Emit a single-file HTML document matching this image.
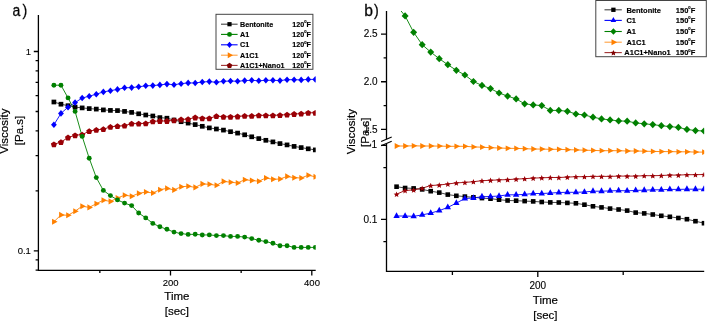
<!DOCTYPE html><html><head><meta charset="utf-8"><style>html,body{margin:0;padding:0;background:#fff;width:707px;height:321px;overflow:hidden}svg{display:block;will-change:transform;font-family:"Liberation Sans",sans-serif}</style></head><body><svg width="707" height="321" viewBox="0 0 707 321" font-family="Liberation Sans, sans-serif"><defs><clipPath id="cl"><rect x="38" y="14" width="277.7" height="257"/></clipPath><clipPath id="cr"><rect x="386.5" y="10.9" width="317.7" height="261"/></clipPath></defs><g clip-path="url(#cl)"><polyline points="53.9,102 60.96,104.2 68.03,105.7 75.09,107.1 82.16,107.9 89.22,108.6 96.29,109.1 103.36,109.9 110.42,110.4 117.48,110.6 124.55,111.4 131.62,112.4 138.68,113.8 145.75,115 152.81,116 159.88,117.6 166.94,118.2 174,120 181.07,121.7 188.14,123.1 195.2,124.6 202.27,126.3 209.33,127.9 216.4,129 223.46,130.1 230.53,131.7 237.59,133.1 244.66,134.8 251.72,136.8 258.79,138.6 265.85,140.3 272.92,141.9 279.98,143.6 287.05,144.9 294.11,146.4 301.18,147.6 308.24,148.8 315.31,149.9" fill="none" stroke="#333" stroke-width="0.9" stroke-opacity="1"/><polyline points="53.9,144.3 60.96,142.1 68.03,137.5 75.09,135.3 82.16,134.6 89.22,131.2 96.29,129.9 103.36,129.2 110.42,126.9 117.48,126.2 124.55,125.7 131.62,123.6 138.68,123.6 145.75,123.4 152.81,121.4 159.88,121 166.94,121 174,120.3 181.07,119.5 188.14,119.1 195.2,117.5 202.27,118.3 209.33,118.3 216.4,116.2 223.46,116.8 230.53,116.8 237.59,116.5 244.66,115.9 251.72,115.9 258.79,115.4 265.85,115.4 272.92,115.4 279.98,115.1 287.05,114.6 294.11,114 301.18,113.7 308.24,112.8 315.31,112.8" fill="none" stroke="#9a0006" stroke-width="0.9" stroke-opacity="1"/><polyline points="53.9,221.8 60.96,214.9 68.03,215.3 75.09,211.2 82.16,206.2 89.22,207.4 96.29,203.7 103.36,200.2 110.42,201.4 117.48,198 124.55,195.2 131.62,196.2 138.68,193.4 145.75,192 152.81,193 159.88,189.7 166.94,188.4 174,189.9 181.07,186.8 188.14,186.2 195.2,187.4 202.27,183.9 209.33,184.3 216.4,185.3 223.46,181.4 230.53,182.2 237.59,183 244.66,179.7 251.72,180.5 258.79,181.2 265.85,178 272.92,179.3 279.98,179 287.05,176.4 294.11,177.7 301.18,178 308.24,175.2 315.31,176.8" fill="none" stroke="#ff8000" stroke-width="0.9" stroke-opacity="1"/><polyline points="53.9,124.8 60.96,113.4 68.03,107.2 75.09,102.6 82.16,98 89.22,96.2 96.29,94.2 103.36,91.9 110.42,90.7 117.48,89.4 124.55,87.8 131.62,87.6 138.68,86.8 145.75,85.8 152.81,85.6 159.88,84.9 166.94,84.1 174,84.7 181.07,83.7 188.14,82.9 195.2,83 202.27,82 209.33,81.6 216.4,82.3 223.46,81.3 230.53,81 237.59,81.3 244.66,80.6 251.72,80.3 258.79,80.8 265.85,80.3 272.92,80.3 279.98,80.6 287.05,79.7 294.11,79.7 301.18,79.9 308.24,79.4 315.31,79.4" fill="none" stroke="#0000ff" stroke-width="0.9" stroke-opacity="1"/><polyline points="53.9,85.2 60.96,85.2 68.03,97.9 75.09,111.4 82.16,136.4 89.22,158.3 96.29,177.6 103.36,190.4 110.42,195.6 117.48,199.9 124.55,203.1 131.62,205.6 138.68,213 145.75,217.9 152.81,223.4 159.88,226.8 166.94,229.3 174,232.1 181.07,233.6 188.14,234.4 195.2,234.3 202.27,235 209.33,234.9 216.4,235.6 223.46,235.6 230.53,236.4 237.59,236.4 244.66,237.1 251.72,238.6 258.79,240.3 265.85,241.6 272.92,243.3 279.98,245.7 287.05,245.7 294.11,247.4 301.18,247.4 308.24,247.4 315.31,247.4" fill="none" stroke="#008000" stroke-width="0.9" stroke-opacity="1"/><rect x="51.55" y="99.65" width="4.7" height="4.7" fill="#000000"/><rect x="58.61" y="101.85" width="4.7" height="4.7" fill="#000000"/><rect x="65.68" y="103.35" width="4.7" height="4.7" fill="#000000"/><rect x="72.75" y="104.75" width="4.7" height="4.7" fill="#000000"/><rect x="79.81" y="105.55" width="4.7" height="4.7" fill="#000000"/><rect x="86.88" y="106.25" width="4.7" height="4.7" fill="#000000"/><rect x="93.94" y="106.75" width="4.7" height="4.7" fill="#000000"/><rect x="101.01" y="107.55" width="4.7" height="4.7" fill="#000000"/><rect x="108.07" y="108.05" width="4.7" height="4.7" fill="#000000"/><rect x="115.14" y="108.25" width="4.7" height="4.7" fill="#000000"/><rect x="122.2" y="109.05" width="4.7" height="4.7" fill="#000000"/><rect x="129.27" y="110.05" width="4.7" height="4.7" fill="#000000"/><rect x="136.33" y="111.45" width="4.7" height="4.7" fill="#000000"/><rect x="143.4" y="112.65" width="4.7" height="4.7" fill="#000000"/><rect x="150.46" y="113.65" width="4.7" height="4.7" fill="#000000"/><rect x="157.53" y="115.25" width="4.7" height="4.7" fill="#000000"/><rect x="164.59" y="115.85" width="4.7" height="4.7" fill="#000000"/><rect x="171.66" y="117.65" width="4.7" height="4.7" fill="#000000"/><rect x="178.72" y="119.35" width="4.7" height="4.7" fill="#000000"/><rect x="185.79" y="120.75" width="4.7" height="4.7" fill="#000000"/><rect x="192.85" y="122.25" width="4.7" height="4.7" fill="#000000"/><rect x="199.92" y="123.95" width="4.7" height="4.7" fill="#000000"/><rect x="206.98" y="125.55" width="4.7" height="4.7" fill="#000000"/><rect x="214.05" y="126.65" width="4.7" height="4.7" fill="#000000"/><rect x="221.11" y="127.75" width="4.7" height="4.7" fill="#000000"/><rect x="228.18" y="129.35" width="4.7" height="4.7" fill="#000000"/><rect x="235.24" y="130.75" width="4.7" height="4.7" fill="#000000"/><rect x="242.31" y="132.45" width="4.7" height="4.7" fill="#000000"/><rect x="249.37" y="134.45" width="4.7" height="4.7" fill="#000000"/><rect x="256.44" y="136.25" width="4.7" height="4.7" fill="#000000"/><rect x="263.5" y="137.95" width="4.7" height="4.7" fill="#000000"/><rect x="270.56" y="139.55" width="4.7" height="4.7" fill="#000000"/><rect x="277.63" y="141.25" width="4.7" height="4.7" fill="#000000"/><rect x="284.69" y="142.55" width="4.7" height="4.7" fill="#000000"/><rect x="291.76" y="144.05" width="4.7" height="4.7" fill="#000000"/><rect x="298.82" y="145.25" width="4.7" height="4.7" fill="#000000"/><rect x="305.89" y="146.45" width="4.7" height="4.7" fill="#000000"/><rect x="312.95" y="147.55" width="4.7" height="4.7" fill="#000000"/><path d="M53.9 141.4L56.94 143.61L55.78 147.19L52.02 147.19L50.86 143.61Z" fill="#9a0006"/><path d="M60.96 139.2L64.01 141.41L62.85 144.99L59.08 144.99L57.92 141.41Z" fill="#9a0006"/><path d="M68.03 134.6L71.07 136.81L69.91 140.39L66.15 140.39L64.99 136.81Z" fill="#9a0006"/><path d="M75.09 132.4L78.14 134.61L76.98 138.19L73.21 138.19L72.05 134.61Z" fill="#9a0006"/><path d="M82.16 131.7L85.2 133.91L84.04 137.49L80.28 137.49L79.12 133.91Z" fill="#9a0006"/><path d="M89.22 128.3L92.27 130.51L91.11 134.09L87.34 134.09L86.18 130.51Z" fill="#9a0006"/><path d="M96.29 127L99.33 129.21L98.17 132.79L94.41 132.79L93.25 129.21Z" fill="#9a0006"/><path d="M103.36 126.3L106.4 128.51L105.24 132.09L101.47 132.09L100.31 128.51Z" fill="#9a0006"/><path d="M110.42 124L113.46 126.21L112.3 129.79L108.54 129.79L107.38 126.21Z" fill="#9a0006"/><path d="M117.48 123.3L120.53 125.51L119.37 129.09L115.6 129.09L114.44 125.51Z" fill="#9a0006"/><path d="M124.55 122.8L127.59 125.01L126.43 128.59L122.67 128.59L121.51 125.01Z" fill="#9a0006"/><path d="M131.62 120.7L134.66 122.91L133.5 126.49L129.73 126.49L128.57 122.91Z" fill="#9a0006"/><path d="M138.68 120.7L141.72 122.91L140.56 126.49L136.8 126.49L135.64 122.91Z" fill="#9a0006"/><path d="M145.75 120.5L148.79 122.71L147.63 126.29L143.86 126.29L142.7 122.71Z" fill="#9a0006"/><path d="M152.81 118.5L155.85 120.71L154.69 124.29L150.93 124.29L149.77 120.71Z" fill="#9a0006"/><path d="M159.88 118.1L162.92 120.31L161.76 123.89L157.99 123.89L156.83 120.31Z" fill="#9a0006"/><path d="M166.94 118.1L169.98 120.31L168.82 123.89L165.06 123.89L163.9 120.31Z" fill="#9a0006"/><path d="M174 117.4L177.05 119.61L175.89 123.19L172.12 123.19L170.96 119.61Z" fill="#9a0006"/><path d="M181.07 116.6L184.11 118.81L182.95 122.39L179.19 122.39L178.03 118.81Z" fill="#9a0006"/><path d="M188.14 116.2L191.18 118.41L190.02 121.99L186.25 121.99L185.09 118.41Z" fill="#9a0006"/><path d="M195.2 114.6L198.24 116.81L197.08 120.39L193.32 120.39L192.16 116.81Z" fill="#9a0006"/><path d="M202.27 115.4L205.31 117.61L204.15 121.19L200.38 121.19L199.22 117.61Z" fill="#9a0006"/><path d="M209.33 115.4L212.37 117.61L211.21 121.19L207.45 121.19L206.29 117.61Z" fill="#9a0006"/><path d="M216.4 113.3L219.44 115.51L218.28 119.09L214.51 119.09L213.35 115.51Z" fill="#9a0006"/><path d="M223.46 113.9L226.5 116.11L225.34 119.69L221.58 119.69L220.42 116.11Z" fill="#9a0006"/><path d="M230.53 113.9L233.57 116.11L232.41 119.69L228.64 119.69L227.48 116.11Z" fill="#9a0006"/><path d="M237.59 113.6L240.63 115.81L239.47 119.39L235.71 119.39L234.55 115.81Z" fill="#9a0006"/><path d="M244.66 113L247.7 115.21L246.54 118.79L242.77 118.79L241.61 115.21Z" fill="#9a0006"/><path d="M251.72 113L254.76 115.21L253.6 118.79L249.84 118.79L248.68 115.21Z" fill="#9a0006"/><path d="M258.79 112.5L261.83 114.71L260.67 118.29L256.9 118.29L255.74 114.71Z" fill="#9a0006"/><path d="M265.85 112.5L268.89 114.71L267.73 118.29L263.97 118.29L262.81 114.71Z" fill="#9a0006"/><path d="M272.92 112.5L275.96 114.71L274.8 118.29L271.03 118.29L269.87 114.71Z" fill="#9a0006"/><path d="M279.98 112.2L283.02 114.41L281.86 117.99L278.1 117.99L276.94 114.41Z" fill="#9a0006"/><path d="M287.05 111.7L290.09 113.91L288.93 117.49L285.16 117.49L284 113.91Z" fill="#9a0006"/><path d="M294.11 111.1L297.15 113.31L295.99 116.89L292.23 116.89L291.07 113.31Z" fill="#9a0006"/><path d="M301.18 110.8L304.22 113.01L303.06 116.59L299.29 116.59L298.13 113.01Z" fill="#9a0006"/><path d="M308.24 109.9L311.28 112.11L310.12 115.69L306.36 115.69L305.2 112.11Z" fill="#9a0006"/><path d="M315.31 109.9L318.35 112.11L317.19 115.69L313.42 115.69L312.26 112.11Z" fill="#9a0006"/><path d="M52.07 218.75L57.57 221.8L52.07 224.85Z" fill="#ff8000"/><path d="M59.13 211.85L64.63 214.9L59.13 217.95Z" fill="#ff8000"/><path d="M66.2 212.25L71.7 215.3L66.2 218.35Z" fill="#ff8000"/><path d="M73.26 208.15L78.76 211.2L73.26 214.25Z" fill="#ff8000"/><path d="M80.33 203.15L85.83 206.2L80.33 209.25Z" fill="#ff8000"/><path d="M87.39 204.35L92.89 207.4L87.39 210.45Z" fill="#ff8000"/><path d="M94.46 200.65L99.96 203.7L94.46 206.75Z" fill="#ff8000"/><path d="M101.52 197.15L107.02 200.2L101.52 203.25Z" fill="#ff8000"/><path d="M108.59 198.35L114.09 201.4L108.59 204.45Z" fill="#ff8000"/><path d="M115.65 194.95L121.15 198L115.65 201.05Z" fill="#ff8000"/><path d="M122.72 192.15L128.22 195.2L122.72 198.25Z" fill="#ff8000"/><path d="M129.78 193.15L135.28 196.2L129.78 199.25Z" fill="#ff8000"/><path d="M136.85 190.35L142.35 193.4L136.85 196.45Z" fill="#ff8000"/><path d="M143.91 188.95L149.41 192L143.91 195.05Z" fill="#ff8000"/><path d="M150.98 189.95L156.48 193L150.98 196.05Z" fill="#ff8000"/><path d="M158.04 186.65L163.54 189.7L158.04 192.75Z" fill="#ff8000"/><path d="M165.11 185.35L170.61 188.4L165.11 191.45Z" fill="#ff8000"/><path d="M172.17 186.85L177.67 189.9L172.17 192.95Z" fill="#ff8000"/><path d="M179.24 183.75L184.74 186.8L179.24 189.85Z" fill="#ff8000"/><path d="M186.3 183.15L191.8 186.2L186.3 189.25Z" fill="#ff8000"/><path d="M193.37 184.35L198.87 187.4L193.37 190.45Z" fill="#ff8000"/><path d="M200.43 180.85L205.93 183.9L200.43 186.95Z" fill="#ff8000"/><path d="M207.5 181.25L213 184.3L207.5 187.35Z" fill="#ff8000"/><path d="M214.56 182.25L220.06 185.3L214.56 188.35Z" fill="#ff8000"/><path d="M221.63 178.35L227.13 181.4L221.63 184.45Z" fill="#ff8000"/><path d="M228.69 179.15L234.19 182.2L228.69 185.25Z" fill="#ff8000"/><path d="M235.76 179.95L241.26 183L235.76 186.05Z" fill="#ff8000"/><path d="M242.82 176.65L248.32 179.7L242.82 182.75Z" fill="#ff8000"/><path d="M249.89 177.45L255.39 180.5L249.89 183.55Z" fill="#ff8000"/><path d="M256.95 178.15L262.45 181.2L256.95 184.25Z" fill="#ff8000"/><path d="M264.02 174.95L269.52 178L264.02 181.05Z" fill="#ff8000"/><path d="M271.08 176.25L276.58 179.3L271.08 182.35Z" fill="#ff8000"/><path d="M278.15 175.95L283.65 179L278.15 182.05Z" fill="#ff8000"/><path d="M285.21 173.35L290.71 176.4L285.21 179.45Z" fill="#ff8000"/><path d="M292.28 174.65L297.78 177.7L292.28 180.75Z" fill="#ff8000"/><path d="M299.34 174.95L304.84 178L299.34 181.05Z" fill="#ff8000"/><path d="M306.41 172.15L311.91 175.2L306.41 178.25Z" fill="#ff8000"/><path d="M313.47 173.75L318.97 176.8L313.47 179.85Z" fill="#ff8000"/><path d="M53.9 121.5L56.8 124.8L53.9 128.1L51 124.8Z" fill="#0000ff"/><path d="M60.96 110.1L63.86 113.4L60.96 116.7L58.06 113.4Z" fill="#0000ff"/><path d="M68.03 103.9L70.93 107.2L68.03 110.5L65.13 107.2Z" fill="#0000ff"/><path d="M75.09 99.3L78 102.6L75.09 105.9L72.19 102.6Z" fill="#0000ff"/><path d="M82.16 94.7L85.06 98L82.16 101.3L79.26 98Z" fill="#0000ff"/><path d="M89.22 92.9L92.12 96.2L89.22 99.5L86.32 96.2Z" fill="#0000ff"/><path d="M96.29 90.9L99.19 94.2L96.29 97.5L93.39 94.2Z" fill="#0000ff"/><path d="M103.36 88.6L106.26 91.9L103.36 95.2L100.45 91.9Z" fill="#0000ff"/><path d="M110.42 87.4L113.32 90.7L110.42 94L107.52 90.7Z" fill="#0000ff"/><path d="M117.48 86.1L120.39 89.4L117.48 92.7L114.58 89.4Z" fill="#0000ff"/><path d="M124.55 84.5L127.45 87.8L124.55 91.1L121.65 87.8Z" fill="#0000ff"/><path d="M131.62 84.3L134.52 87.6L131.62 90.9L128.72 87.6Z" fill="#0000ff"/><path d="M138.68 83.5L141.58 86.8L138.68 90.1L135.78 86.8Z" fill="#0000ff"/><path d="M145.75 82.5L148.65 85.8L145.75 89.1L142.84 85.8Z" fill="#0000ff"/><path d="M152.81 82.3L155.71 85.6L152.81 88.9L149.91 85.6Z" fill="#0000ff"/><path d="M159.88 81.6L162.78 84.9L159.88 88.2L156.97 84.9Z" fill="#0000ff"/><path d="M166.94 80.8L169.84 84.1L166.94 87.4L164.04 84.1Z" fill="#0000ff"/><path d="M174 81.4L176.91 84.7L174 88L171.1 84.7Z" fill="#0000ff"/><path d="M181.07 80.4L183.97 83.7L181.07 87L178.17 83.7Z" fill="#0000ff"/><path d="M188.14 79.6L191.04 82.9L188.14 86.2L185.24 82.9Z" fill="#0000ff"/><path d="M195.2 79.7L198.1 83L195.2 86.3L192.3 83Z" fill="#0000ff"/><path d="M202.27 78.7L205.17 82L202.27 85.3L199.37 82Z" fill="#0000ff"/><path d="M209.33 78.3L212.23 81.6L209.33 84.9L206.43 81.6Z" fill="#0000ff"/><path d="M216.4 79L219.3 82.3L216.4 85.6L213.5 82.3Z" fill="#0000ff"/><path d="M223.46 78L226.36 81.3L223.46 84.6L220.56 81.3Z" fill="#0000ff"/><path d="M230.53 77.7L233.43 81L230.53 84.3L227.62 81Z" fill="#0000ff"/><path d="M237.59 78L240.49 81.3L237.59 84.6L234.69 81.3Z" fill="#0000ff"/><path d="M244.66 77.3L247.56 80.6L244.66 83.9L241.76 80.6Z" fill="#0000ff"/><path d="M251.72 77L254.62 80.3L251.72 83.6L248.82 80.3Z" fill="#0000ff"/><path d="M258.79 77.5L261.69 80.8L258.79 84.1L255.89 80.8Z" fill="#0000ff"/><path d="M265.85 77L268.75 80.3L265.85 83.6L262.95 80.3Z" fill="#0000ff"/><path d="M272.92 77L275.81 80.3L272.92 83.6L270.02 80.3Z" fill="#0000ff"/><path d="M279.98 77.3L282.88 80.6L279.98 83.9L277.08 80.6Z" fill="#0000ff"/><path d="M287.05 76.4L289.94 79.7L287.05 83L284.15 79.7Z" fill="#0000ff"/><path d="M294.11 76.4L297.01 79.7L294.11 83L291.21 79.7Z" fill="#0000ff"/><path d="M301.18 76.6L304.07 79.9L301.18 83.2L298.28 79.9Z" fill="#0000ff"/><path d="M308.24 76.1L311.14 79.4L308.24 82.7L305.34 79.4Z" fill="#0000ff"/><path d="M315.31 76.1L318.2 79.4L315.31 82.7L312.41 79.4Z" fill="#0000ff"/><circle cx="53.9" cy="85.2" r="2.45" fill="#008000"/><circle cx="60.96" cy="85.2" r="2.45" fill="#008000"/><circle cx="68.03" cy="97.9" r="2.45" fill="#008000"/><circle cx="75.09" cy="111.4" r="2.45" fill="#008000"/><circle cx="82.16" cy="136.4" r="2.45" fill="#008000"/><circle cx="89.22" cy="158.3" r="2.45" fill="#008000"/><circle cx="96.29" cy="177.6" r="2.45" fill="#008000"/><circle cx="103.36" cy="190.4" r="2.45" fill="#008000"/><circle cx="110.42" cy="195.6" r="2.45" fill="#008000"/><circle cx="117.48" cy="199.9" r="2.45" fill="#008000"/><circle cx="124.55" cy="203.1" r="2.45" fill="#008000"/><circle cx="131.62" cy="205.6" r="2.45" fill="#008000"/><circle cx="138.68" cy="213" r="2.45" fill="#008000"/><circle cx="145.75" cy="217.9" r="2.45" fill="#008000"/><circle cx="152.81" cy="223.4" r="2.45" fill="#008000"/><circle cx="159.88" cy="226.8" r="2.45" fill="#008000"/><circle cx="166.94" cy="229.3" r="2.45" fill="#008000"/><circle cx="174" cy="232.1" r="2.45" fill="#008000"/><circle cx="181.07" cy="233.6" r="2.45" fill="#008000"/><circle cx="188.14" cy="234.4" r="2.45" fill="#008000"/><circle cx="195.2" cy="234.3" r="2.45" fill="#008000"/><circle cx="202.27" cy="235" r="2.45" fill="#008000"/><circle cx="209.33" cy="234.9" r="2.45" fill="#008000"/><circle cx="216.4" cy="235.6" r="2.45" fill="#008000"/><circle cx="223.46" cy="235.6" r="2.45" fill="#008000"/><circle cx="230.53" cy="236.4" r="2.45" fill="#008000"/><circle cx="237.59" cy="236.4" r="2.45" fill="#008000"/><circle cx="244.66" cy="237.1" r="2.45" fill="#008000"/><circle cx="251.72" cy="238.6" r="2.45" fill="#008000"/><circle cx="258.79" cy="240.3" r="2.45" fill="#008000"/><circle cx="265.85" cy="241.6" r="2.45" fill="#008000"/><circle cx="272.92" cy="243.3" r="2.45" fill="#008000"/><circle cx="279.98" cy="245.7" r="2.45" fill="#008000"/><circle cx="287.05" cy="245.7" r="2.45" fill="#008000"/><circle cx="294.11" cy="247.4" r="2.45" fill="#008000"/><circle cx="301.18" cy="247.4" r="2.45" fill="#008000"/><circle cx="308.24" cy="247.4" r="2.45" fill="#008000"/><circle cx="315.31" cy="247.4" r="2.45" fill="#008000"/></g><g stroke="#000" stroke-width="1.3" fill="none"><path d="M38.4 15V270.3M37.75 270.3H315.7"/><path d="M33.8 51.5H38.4M33.8 250.8H38.4M35.6 60.62H38.4M35.6 70.81H38.4M35.6 82.37H38.4M35.6 95.71H38.4M35.6 111.5H38.4M35.6 130.81H38.4M35.6 155.71H38.4M35.6 190.8H38.4M35.6 259.92H38.4M35.6 270.11H38.4M170.5 270.3V275.6M311.8 270.3V275.6M99.85 270.3V273M241.15 270.3V273"/></g><g clip-path="url(#cr)"><polyline points="396.56,5.5 405.1,15.9 413.64,32.3 422.18,44.7 430.72,52.1 439.26,58.7 447.8,64.7 456.34,70.3 464.88,75 473.42,81.5 481.96,85.4 490.5,88.6 499.04,93 507.58,96.1 516.12,98.9 524.66,103.8 533.2,104.9 541.74,105.6 550.28,110.4 558.82,110.4 567.36,111.3 575.9,114 584.44,115 592.98,117.2 601.52,118.9 610.06,119.9 618.6,120.9 627.14,121.2 635.68,122.9 644.22,123.8 652.76,124.6 661.3,125.7 669.84,126.6 678.38,127.4 686.92,129.4 695.46,130.6 704,131" fill="none" stroke="#008000" stroke-width="0.9" stroke-opacity="1"/><polyline points="396.56,146 405.1,146 413.64,145.8 422.18,146 430.72,146 439.26,146.1 447.8,146.3 456.34,146.3 464.88,146.3 473.42,146.9 481.96,147.2 490.5,147.7 499.04,148 507.58,148.3 516.12,148.4 524.66,148.7 533.2,149 541.74,149.1 550.28,149.3 558.82,149.3 567.36,149.7 575.9,149.9 584.44,150.2 592.98,150.4 601.52,150.7 610.06,150.7 618.6,150.7 627.14,151 635.68,151 644.22,151.2 652.76,151.4 661.3,151.6 669.84,151.6 678.38,151.8 686.92,151.8 695.46,152.1 704,152.1" fill="none" stroke="#ff8000" stroke-width="0.9" stroke-opacity="1"/><polyline points="396.56,186.7 405.1,188 413.64,188.4 422.18,189.4 430.72,191.2 439.26,192.6 447.8,194.6 456.34,195.8 464.88,196.6 473.42,197.3 481.96,198.1 490.5,198.7 499.04,199.7 507.58,200.5 516.12,200.7 524.66,201.1 533.2,201.4 541.74,202 550.28,202.4 558.82,202.5 567.36,202.9 575.9,203.3 584.44,204.7 592.98,206.3 601.52,207.4 610.06,208.6 618.6,209.5 627.14,210.6 635.68,212.6 644.22,213.4 652.76,214.5 661.3,215.8 669.84,216.8 678.38,218 686.92,219.2 695.46,221.2 704,223.2" fill="none" stroke="#333" stroke-width="0.9" stroke-opacity="1"/><polyline points="396.56,194.2 405.1,190.5 413.64,189.9 422.18,188.2 430.72,185.5 439.26,185 447.8,184 456.34,182.9 464.88,182.4 473.42,181.7 481.96,180.7 490.5,180.3 499.04,179.9 507.58,179.6 516.12,179.1 524.66,178.7 533.2,178.1 541.74,177.8 550.28,177.5 558.82,177.5 567.36,177.1 575.9,176.7 584.44,176.7 592.98,176.4 601.52,176.4 610.06,176.4 618.6,176.1 627.14,176.1 635.68,176.1 644.22,175.7 652.76,175.7 661.3,175.5 669.84,175.1 678.38,175.1 686.92,174.7 695.46,174.7 704,174.5" fill="none" stroke="#9a0006" stroke-width="0.9" stroke-opacity="1"/><polyline points="396.56,216 405.1,216 413.64,216.3 422.18,214.9 430.72,213.1 439.26,210.6 447.8,207.4 456.34,203.1 464.88,198.5 473.42,198 481.96,196.7 490.5,196.5 499.04,196 507.58,194.8 516.12,194.8 524.66,194.4 533.2,193.5 541.74,193.5 550.28,193.1 558.82,192.5 567.36,192.3 575.9,192.3 584.44,192 592.98,191.2 601.52,191.2 610.06,190.9 618.6,190.6 627.14,190.8 635.68,190.4 644.22,190.2 652.76,189.8 661.3,189.8 669.84,189.4 678.38,189.4 686.92,189.2 695.46,189.2 704,189.2" fill="none" stroke="#0000ff" stroke-width="0.9" stroke-opacity="1"/><path d="M396.56 1.9L400.06 5.5L396.56 9.1L393.06 5.5Z" fill="#008000"/><path d="M405.1 12.3L408.6 15.9L405.1 19.5L401.6 15.9Z" fill="#008000"/><path d="M413.64 28.7L417.14 32.3L413.64 35.9L410.14 32.3Z" fill="#008000"/><path d="M422.18 41.1L425.68 44.7L422.18 48.3L418.68 44.7Z" fill="#008000"/><path d="M430.72 48.5L434.22 52.1L430.72 55.7L427.22 52.1Z" fill="#008000"/><path d="M439.26 55.1L442.76 58.7L439.26 62.3L435.76 58.7Z" fill="#008000"/><path d="M447.8 61.1L451.3 64.7L447.8 68.3L444.3 64.7Z" fill="#008000"/><path d="M456.34 66.7L459.84 70.3L456.34 73.9L452.84 70.3Z" fill="#008000"/><path d="M464.88 71.4L468.38 75L464.88 78.6L461.38 75Z" fill="#008000"/><path d="M473.42 77.9L476.92 81.5L473.42 85.1L469.92 81.5Z" fill="#008000"/><path d="M481.96 81.8L485.46 85.4L481.96 89L478.46 85.4Z" fill="#008000"/><path d="M490.5 85L494 88.6L490.5 92.2L487 88.6Z" fill="#008000"/><path d="M499.04 89.4L502.54 93L499.04 96.6L495.54 93Z" fill="#008000"/><path d="M507.58 92.5L511.08 96.1L507.58 99.7L504.08 96.1Z" fill="#008000"/><path d="M516.12 95.3L519.62 98.9L516.12 102.5L512.62 98.9Z" fill="#008000"/><path d="M524.66 100.2L528.16 103.8L524.66 107.4L521.16 103.8Z" fill="#008000"/><path d="M533.2 101.3L536.7 104.9L533.2 108.5L529.7 104.9Z" fill="#008000"/><path d="M541.74 102L545.24 105.6L541.74 109.2L538.24 105.6Z" fill="#008000"/><path d="M550.28 106.8L553.78 110.4L550.28 114L546.78 110.4Z" fill="#008000"/><path d="M558.82 106.8L562.32 110.4L558.82 114L555.32 110.4Z" fill="#008000"/><path d="M567.36 107.7L570.86 111.3L567.36 114.9L563.86 111.3Z" fill="#008000"/><path d="M575.9 110.4L579.4 114L575.9 117.6L572.4 114Z" fill="#008000"/><path d="M584.44 111.4L587.94 115L584.44 118.6L580.94 115Z" fill="#008000"/><path d="M592.98 113.6L596.48 117.2L592.98 120.8L589.48 117.2Z" fill="#008000"/><path d="M601.52 115.3L605.02 118.9L601.52 122.5L598.02 118.9Z" fill="#008000"/><path d="M610.06 116.3L613.56 119.9L610.06 123.5L606.56 119.9Z" fill="#008000"/><path d="M618.6 117.3L622.1 120.9L618.6 124.5L615.1 120.9Z" fill="#008000"/><path d="M627.14 117.6L630.64 121.2L627.14 124.8L623.64 121.2Z" fill="#008000"/><path d="M635.68 119.3L639.18 122.9L635.68 126.5L632.18 122.9Z" fill="#008000"/><path d="M644.22 120.2L647.72 123.8L644.22 127.4L640.72 123.8Z" fill="#008000"/><path d="M652.76 121L656.26 124.6L652.76 128.2L649.26 124.6Z" fill="#008000"/><path d="M661.3 122.1L664.8 125.7L661.3 129.3L657.8 125.7Z" fill="#008000"/><path d="M669.84 123L673.34 126.6L669.84 130.2L666.34 126.6Z" fill="#008000"/><path d="M678.38 123.8L681.88 127.4L678.38 131L674.88 127.4Z" fill="#008000"/><path d="M686.92 125.8L690.42 129.4L686.92 133L683.42 129.4Z" fill="#008000"/><path d="M695.46 127L698.96 130.6L695.46 134.2L691.96 130.6Z" fill="#008000"/><path d="M704 127.4L707.5 131L704 134.6L700.5 131Z" fill="#008000"/><path d="M394.66 143.1L400.36 146L394.66 148.9Z" fill="#ff8000"/><path d="M403.2 143.1L408.9 146L403.2 148.9Z" fill="#ff8000"/><path d="M411.74 142.9L417.44 145.8L411.74 148.7Z" fill="#ff8000"/><path d="M420.28 143.1L425.98 146L420.28 148.9Z" fill="#ff8000"/><path d="M428.82 143.1L434.52 146L428.82 148.9Z" fill="#ff8000"/><path d="M437.36 143.2L443.06 146.1L437.36 149Z" fill="#ff8000"/><path d="M445.9 143.4L451.6 146.3L445.9 149.2Z" fill="#ff8000"/><path d="M454.44 143.4L460.14 146.3L454.44 149.2Z" fill="#ff8000"/><path d="M462.98 143.4L468.68 146.3L462.98 149.2Z" fill="#ff8000"/><path d="M471.52 144L477.22 146.9L471.52 149.8Z" fill="#ff8000"/><path d="M480.06 144.3L485.76 147.2L480.06 150.1Z" fill="#ff8000"/><path d="M488.6 144.8L494.3 147.7L488.6 150.6Z" fill="#ff8000"/><path d="M497.14 145.1L502.84 148L497.14 150.9Z" fill="#ff8000"/><path d="M505.68 145.4L511.38 148.3L505.68 151.2Z" fill="#ff8000"/><path d="M514.22 145.5L519.92 148.4L514.22 151.3Z" fill="#ff8000"/><path d="M522.76 145.8L528.46 148.7L522.76 151.6Z" fill="#ff8000"/><path d="M531.3 146.1L537 149L531.3 151.9Z" fill="#ff8000"/><path d="M539.84 146.2L545.54 149.1L539.84 152Z" fill="#ff8000"/><path d="M548.38 146.4L554.08 149.3L548.38 152.2Z" fill="#ff8000"/><path d="M556.92 146.4L562.62 149.3L556.92 152.2Z" fill="#ff8000"/><path d="M565.46 146.8L571.16 149.7L565.46 152.6Z" fill="#ff8000"/><path d="M574 147L579.7 149.9L574 152.8Z" fill="#ff8000"/><path d="M582.54 147.3L588.24 150.2L582.54 153.1Z" fill="#ff8000"/><path d="M591.08 147.5L596.78 150.4L591.08 153.3Z" fill="#ff8000"/><path d="M599.62 147.8L605.32 150.7L599.62 153.6Z" fill="#ff8000"/><path d="M608.16 147.8L613.86 150.7L608.16 153.6Z" fill="#ff8000"/><path d="M616.7 147.8L622.4 150.7L616.7 153.6Z" fill="#ff8000"/><path d="M625.24 148.1L630.94 151L625.24 153.9Z" fill="#ff8000"/><path d="M633.78 148.1L639.48 151L633.78 153.9Z" fill="#ff8000"/><path d="M642.32 148.3L648.02 151.2L642.32 154.1Z" fill="#ff8000"/><path d="M650.86 148.5L656.56 151.4L650.86 154.3Z" fill="#ff8000"/><path d="M659.4 148.7L665.1 151.6L659.4 154.5Z" fill="#ff8000"/><path d="M667.94 148.7L673.64 151.6L667.94 154.5Z" fill="#ff8000"/><path d="M676.48 148.9L682.18 151.8L676.48 154.7Z" fill="#ff8000"/><path d="M685.02 148.9L690.72 151.8L685.02 154.7Z" fill="#ff8000"/><path d="M693.56 149.2L699.26 152.1L693.56 155Z" fill="#ff8000"/><path d="M702.1 149.2L707.8 152.1L702.1 155Z" fill="#ff8000"/><rect x="394.26" y="184.4" width="4.6" height="4.6" fill="#000000"/><rect x="402.8" y="185.7" width="4.6" height="4.6" fill="#000000"/><rect x="411.34" y="186.1" width="4.6" height="4.6" fill="#000000"/><rect x="419.88" y="187.1" width="4.6" height="4.6" fill="#000000"/><rect x="428.42" y="188.9" width="4.6" height="4.6" fill="#000000"/><rect x="436.96" y="190.3" width="4.6" height="4.6" fill="#000000"/><rect x="445.5" y="192.3" width="4.6" height="4.6" fill="#000000"/><rect x="454.04" y="193.5" width="4.6" height="4.6" fill="#000000"/><rect x="462.58" y="194.3" width="4.6" height="4.6" fill="#000000"/><rect x="471.12" y="195" width="4.6" height="4.6" fill="#000000"/><rect x="479.66" y="195.8" width="4.6" height="4.6" fill="#000000"/><rect x="488.2" y="196.4" width="4.6" height="4.6" fill="#000000"/><rect x="496.74" y="197.4" width="4.6" height="4.6" fill="#000000"/><rect x="505.28" y="198.2" width="4.6" height="4.6" fill="#000000"/><rect x="513.82" y="198.4" width="4.6" height="4.6" fill="#000000"/><rect x="522.36" y="198.8" width="4.6" height="4.6" fill="#000000"/><rect x="530.9" y="199.1" width="4.6" height="4.6" fill="#000000"/><rect x="539.44" y="199.7" width="4.6" height="4.6" fill="#000000"/><rect x="547.98" y="200.1" width="4.6" height="4.6" fill="#000000"/><rect x="556.52" y="200.2" width="4.6" height="4.6" fill="#000000"/><rect x="565.06" y="200.6" width="4.6" height="4.6" fill="#000000"/><rect x="573.6" y="201" width="4.6" height="4.6" fill="#000000"/><rect x="582.14" y="202.4" width="4.6" height="4.6" fill="#000000"/><rect x="590.68" y="204" width="4.6" height="4.6" fill="#000000"/><rect x="599.22" y="205.1" width="4.6" height="4.6" fill="#000000"/><rect x="607.76" y="206.3" width="4.6" height="4.6" fill="#000000"/><rect x="616.3" y="207.2" width="4.6" height="4.6" fill="#000000"/><rect x="624.84" y="208.3" width="4.6" height="4.6" fill="#000000"/><rect x="633.38" y="210.3" width="4.6" height="4.6" fill="#000000"/><rect x="641.92" y="211.1" width="4.6" height="4.6" fill="#000000"/><rect x="650.46" y="212.2" width="4.6" height="4.6" fill="#000000"/><rect x="659" y="213.5" width="4.6" height="4.6" fill="#000000"/><rect x="667.54" y="214.5" width="4.6" height="4.6" fill="#000000"/><rect x="676.08" y="215.7" width="4.6" height="4.6" fill="#000000"/><rect x="684.62" y="216.9" width="4.6" height="4.6" fill="#000000"/><rect x="693.16" y="218.9" width="4.6" height="4.6" fill="#000000"/><rect x="701.7" y="220.9" width="4.6" height="4.6" fill="#000000"/><path d="M396.56 191.5L397.38 193.47L399.51 193.64L397.89 195.03L398.38 197.11L396.56 196L394.74 197.11L395.23 195.03L393.61 193.64L395.74 193.47Z" fill="#9a0006"/><path d="M405.1 187.8L405.92 189.77L408.05 189.94L406.43 191.33L406.92 193.41L405.1 192.3L403.28 193.41L403.77 191.33L402.15 189.94L404.28 189.77Z" fill="#9a0006"/><path d="M413.64 187.2L414.46 189.17L416.59 189.34L414.97 190.73L415.46 192.81L413.64 191.7L411.82 192.81L412.31 190.73L410.69 189.34L412.82 189.17Z" fill="#9a0006"/><path d="M422.18 185.5L423 187.47L425.13 187.64L423.51 189.03L424 191.11L422.18 190L420.36 191.11L420.85 189.03L419.23 187.64L421.36 187.47Z" fill="#9a0006"/><path d="M430.72 182.8L431.54 184.77L433.67 184.94L432.05 186.33L432.54 188.41L430.72 187.3L428.9 188.41L429.39 186.33L427.77 184.94L429.9 184.77Z" fill="#9a0006"/><path d="M439.26 182.3L440.08 184.27L442.21 184.44L440.59 185.83L441.08 187.91L439.26 186.8L437.44 187.91L437.93 185.83L436.31 184.44L438.44 184.27Z" fill="#9a0006"/><path d="M447.8 181.3L448.62 183.27L450.75 183.44L449.13 184.83L449.62 186.91L447.8 185.8L445.98 186.91L446.47 184.83L444.85 183.44L446.98 183.27Z" fill="#9a0006"/><path d="M456.34 180.2L457.16 182.17L459.29 182.34L457.67 183.73L458.16 185.81L456.34 184.7L454.52 185.81L455.01 183.73L453.39 182.34L455.52 182.17Z" fill="#9a0006"/><path d="M464.88 179.7L465.7 181.67L467.83 181.84L466.21 183.23L466.7 185.31L464.88 184.2L463.06 185.31L463.55 183.23L461.93 181.84L464.06 181.67Z" fill="#9a0006"/><path d="M473.42 179L474.24 180.97L476.37 181.14L474.75 182.53L475.24 184.61L473.42 183.5L471.6 184.61L472.09 182.53L470.47 181.14L472.6 180.97Z" fill="#9a0006"/><path d="M481.96 178L482.78 179.97L484.91 180.14L483.29 181.53L483.78 183.61L481.96 182.5L480.14 183.61L480.63 181.53L479.01 180.14L481.14 179.97Z" fill="#9a0006"/><path d="M490.5 177.6L491.32 179.57L493.45 179.74L491.83 181.13L492.32 183.21L490.5 182.1L488.68 183.21L489.17 181.13L487.55 179.74L489.68 179.57Z" fill="#9a0006"/><path d="M499.04 177.2L499.86 179.17L501.99 179.34L500.37 180.73L500.86 182.81L499.04 181.7L497.22 182.81L497.71 180.73L496.09 179.34L498.22 179.17Z" fill="#9a0006"/><path d="M507.58 176.9L508.4 178.87L510.53 179.04L508.91 180.43L509.4 182.51L507.58 181.4L505.76 182.51L506.25 180.43L504.63 179.04L506.76 178.87Z" fill="#9a0006"/><path d="M516.12 176.4L516.94 178.37L519.07 178.54L517.45 179.93L517.94 182.01L516.12 180.9L514.3 182.01L514.79 179.93L513.17 178.54L515.3 178.37Z" fill="#9a0006"/><path d="M524.66 176L525.48 177.97L527.61 178.14L525.99 179.53L526.48 181.61L524.66 180.5L522.84 181.61L523.33 179.53L521.71 178.14L523.84 177.97Z" fill="#9a0006"/><path d="M533.2 175.4L534.02 177.37L536.15 177.54L534.53 178.93L535.02 181.01L533.2 179.9L531.38 181.01L531.87 178.93L530.25 177.54L532.38 177.37Z" fill="#9a0006"/><path d="M541.74 175.1L542.56 177.07L544.69 177.24L543.07 178.63L543.56 180.71L541.74 179.6L539.92 180.71L540.41 178.63L538.79 177.24L540.92 177.07Z" fill="#9a0006"/><path d="M550.28 174.8L551.1 176.77L553.23 176.94L551.61 178.33L552.1 180.41L550.28 179.3L548.46 180.41L548.95 178.33L547.33 176.94L549.46 176.77Z" fill="#9a0006"/><path d="M558.82 174.8L559.64 176.77L561.77 176.94L560.15 178.33L560.64 180.41L558.82 179.3L557 180.41L557.49 178.33L555.87 176.94L558 176.77Z" fill="#9a0006"/><path d="M567.36 174.4L568.18 176.37L570.31 176.54L568.69 177.93L569.18 180.01L567.36 178.9L565.54 180.01L566.03 177.93L564.41 176.54L566.54 176.37Z" fill="#9a0006"/><path d="M575.9 174L576.72 175.97L578.85 176.14L577.23 177.53L577.72 179.61L575.9 178.5L574.08 179.61L574.57 177.53L572.95 176.14L575.08 175.97Z" fill="#9a0006"/><path d="M584.44 174L585.26 175.97L587.39 176.14L585.77 177.53L586.26 179.61L584.44 178.5L582.62 179.61L583.11 177.53L581.49 176.14L583.62 175.97Z" fill="#9a0006"/><path d="M592.98 173.7L593.8 175.67L595.93 175.84L594.31 177.23L594.8 179.31L592.98 178.2L591.16 179.31L591.65 177.23L590.03 175.84L592.16 175.67Z" fill="#9a0006"/><path d="M601.52 173.7L602.34 175.67L604.47 175.84L602.85 177.23L603.34 179.31L601.52 178.2L599.7 179.31L600.19 177.23L598.57 175.84L600.7 175.67Z" fill="#9a0006"/><path d="M610.06 173.7L610.88 175.67L613.01 175.84L611.39 177.23L611.88 179.31L610.06 178.2L608.24 179.31L608.73 177.23L607.11 175.84L609.24 175.67Z" fill="#9a0006"/><path d="M618.6 173.4L619.42 175.37L621.55 175.54L619.93 176.93L620.42 179.01L618.6 177.9L616.78 179.01L617.27 176.93L615.65 175.54L617.78 175.37Z" fill="#9a0006"/><path d="M627.14 173.4L627.96 175.37L630.09 175.54L628.47 176.93L628.96 179.01L627.14 177.9L625.32 179.01L625.81 176.93L624.19 175.54L626.32 175.37Z" fill="#9a0006"/><path d="M635.68 173.4L636.5 175.37L638.63 175.54L637.01 176.93L637.5 179.01L635.68 177.9L633.86 179.01L634.35 176.93L632.73 175.54L634.86 175.37Z" fill="#9a0006"/><path d="M644.22 173L645.04 174.97L647.17 175.14L645.55 176.53L646.04 178.61L644.22 177.5L642.4 178.61L642.89 176.53L641.27 175.14L643.4 174.97Z" fill="#9a0006"/><path d="M652.76 173L653.58 174.97L655.71 175.14L654.09 176.53L654.58 178.61L652.76 177.5L650.94 178.61L651.43 176.53L649.81 175.14L651.94 174.97Z" fill="#9a0006"/><path d="M661.3 172.8L662.12 174.77L664.25 174.94L662.63 176.33L663.12 178.41L661.3 177.3L659.48 178.41L659.97 176.33L658.35 174.94L660.48 174.77Z" fill="#9a0006"/><path d="M669.84 172.4L670.66 174.37L672.79 174.54L671.17 175.93L671.66 178.01L669.84 176.9L668.02 178.01L668.51 175.93L666.89 174.54L669.02 174.37Z" fill="#9a0006"/><path d="M678.38 172.4L679.2 174.37L681.33 174.54L679.71 175.93L680.2 178.01L678.38 176.9L676.56 178.01L677.05 175.93L675.43 174.54L677.56 174.37Z" fill="#9a0006"/><path d="M686.92 172L687.74 173.97L689.87 174.14L688.25 175.53L688.74 177.61L686.92 176.5L685.1 177.61L685.59 175.53L683.97 174.14L686.1 173.97Z" fill="#9a0006"/><path d="M695.46 172L696.28 173.97L698.41 174.14L696.79 175.53L697.28 177.61L695.46 176.5L693.64 177.61L694.13 175.53L692.51 174.14L694.64 173.97Z" fill="#9a0006"/><path d="M704 171.8L704.82 173.77L706.95 173.94L705.33 175.33L705.82 177.41L704 176.3L702.18 177.41L702.67 175.33L701.05 173.94L703.18 173.77Z" fill="#9a0006"/><path d="M396.56 212.13L399.76 217.93L393.36 217.93Z" fill="#0000ff"/><path d="M405.1 212.13L408.3 217.93L401.9 217.93Z" fill="#0000ff"/><path d="M413.64 212.43L416.84 218.23L410.44 218.23Z" fill="#0000ff"/><path d="M422.18 211.03L425.38 216.83L418.98 216.83Z" fill="#0000ff"/><path d="M430.72 209.23L433.92 215.03L427.52 215.03Z" fill="#0000ff"/><path d="M439.26 206.73L442.46 212.53L436.06 212.53Z" fill="#0000ff"/><path d="M447.8 203.53L451 209.33L444.6 209.33Z" fill="#0000ff"/><path d="M456.34 199.23L459.54 205.03L453.14 205.03Z" fill="#0000ff"/><path d="M464.88 194.63L468.08 200.43L461.68 200.43Z" fill="#0000ff"/><path d="M473.42 194.13L476.62 199.93L470.22 199.93Z" fill="#0000ff"/><path d="M481.96 192.83L485.16 198.63L478.76 198.63Z" fill="#0000ff"/><path d="M490.5 192.63L493.7 198.43L487.3 198.43Z" fill="#0000ff"/><path d="M499.04 192.13L502.24 197.93L495.84 197.93Z" fill="#0000ff"/><path d="M507.58 190.93L510.78 196.73L504.38 196.73Z" fill="#0000ff"/><path d="M516.12 190.93L519.32 196.73L512.92 196.73Z" fill="#0000ff"/><path d="M524.66 190.53L527.86 196.33L521.46 196.33Z" fill="#0000ff"/><path d="M533.2 189.63L536.4 195.43L530 195.43Z" fill="#0000ff"/><path d="M541.74 189.63L544.94 195.43L538.54 195.43Z" fill="#0000ff"/><path d="M550.28 189.23L553.48 195.03L547.08 195.03Z" fill="#0000ff"/><path d="M558.82 188.63L562.02 194.43L555.62 194.43Z" fill="#0000ff"/><path d="M567.36 188.43L570.56 194.23L564.16 194.23Z" fill="#0000ff"/><path d="M575.9 188.43L579.1 194.23L572.7 194.23Z" fill="#0000ff"/><path d="M584.44 188.13L587.64 193.93L581.24 193.93Z" fill="#0000ff"/><path d="M592.98 187.33L596.18 193.13L589.78 193.13Z" fill="#0000ff"/><path d="M601.52 187.33L604.72 193.13L598.32 193.13Z" fill="#0000ff"/><path d="M610.06 187.03L613.26 192.83L606.86 192.83Z" fill="#0000ff"/><path d="M618.6 186.73L621.8 192.53L615.4 192.53Z" fill="#0000ff"/><path d="M627.14 186.93L630.34 192.73L623.94 192.73Z" fill="#0000ff"/><path d="M635.68 186.53L638.88 192.33L632.48 192.33Z" fill="#0000ff"/><path d="M644.22 186.33L647.42 192.13L641.02 192.13Z" fill="#0000ff"/><path d="M652.76 185.93L655.96 191.73L649.56 191.73Z" fill="#0000ff"/><path d="M661.3 185.93L664.5 191.73L658.1 191.73Z" fill="#0000ff"/><path d="M669.84 185.53L673.04 191.33L666.64 191.33Z" fill="#0000ff"/><path d="M678.38 185.53L681.58 191.33L675.18 191.33Z" fill="#0000ff"/><path d="M686.92 185.33L690.12 191.13L683.72 191.13Z" fill="#0000ff"/><path d="M695.46 185.33L698.66 191.13L692.26 191.13Z" fill="#0000ff"/><path d="M704 185.33L707.2 191.13L700.8 191.13Z" fill="#0000ff"/></g><g stroke="#000" stroke-width="1.3" fill="none"><path d="M386.5 10.9V139.2M386.5 143.4V271.3M385.85 271.3H704.2"/><path d="M381 34.1H386.5M381 81.75H386.5M381 129.4H386.5M383.6 57.92H386.5M383.6 105.57H386.5M381 145.4H386.5M381 219.4H386.5M383.4 167.68H386.5M383.4 241.68H386.5M537.8 271.3V277M452.4 271.3V275.1M623.2 271.3V275.1"/><path d="M381.1 141.5L391.7 137M381.1 145.7L391.7 141.3" stroke-width="1.2"/></g><rect x="216" y="14.3" width="96.9" height="55" fill="#fff" stroke="#444" stroke-width="1"/><path d="M221 24.2H237.6" stroke="#444" stroke-width="1.1"/><rect x="227.4" y="22.1" width="4.2" height="4.2" fill="#000000"/><text x="240" y="26.8" font-size="7.2" font-weight="bold" stroke="#000" stroke-width="0.15">Bentonite</text><text x="310.9" y="26.8" font-size="7.2" font-weight="bold" stroke="#000" stroke-width="0.15" text-anchor="end">120<tspan font-size="4.2" dy="-3.8">0</tspan><tspan dy="3.8">F</tspan></text><path d="M221 34.4H237.6" stroke="#008000" stroke-width="1.1"/><circle cx="229.5" cy="34.4" r="2.45" fill="#008000"/><text x="240" y="37" font-size="7.2" font-weight="bold" stroke="#000" stroke-width="0.15">A1</text><text x="310.9" y="37" font-size="7.2" font-weight="bold" stroke="#000" stroke-width="0.15" text-anchor="end">120<tspan font-size="4.2" dy="-3.8">0</tspan><tspan dy="3.8">F</tspan></text><path d="M221 44.8H237.6" stroke="#0000ff" stroke-width="1.1"/><path d="M229.5 41.7L232.2 44.8L229.5 47.9L226.8 44.8Z" fill="#0000ff"/><text x="240" y="47.4" font-size="7.2" font-weight="bold" stroke="#000" stroke-width="0.15">C1</text><text x="310.9" y="47.4" font-size="7.2" font-weight="bold" stroke="#000" stroke-width="0.15" text-anchor="end">120<tspan font-size="4.2" dy="-3.8">0</tspan><tspan dy="3.8">F</tspan></text><path d="M221 55.2H237.6" stroke="#ffa040" stroke-width="1.1"/><path d="M227.77 52.2L232.97 55.2L227.77 58.2Z" fill="#ff8000"/><text x="240" y="57.8" font-size="7.2" font-weight="bold" stroke="#000" stroke-width="0.15">A1C1</text><text x="310.9" y="57.8" font-size="7.2" font-weight="bold" stroke="#000" stroke-width="0.15" text-anchor="end">120<tspan font-size="4.2" dy="-3.8">0</tspan><tspan dy="3.8">F</tspan></text><path d="M221 65.4H237.6" stroke="#a03030" stroke-width="1.1"/><path d="M229.5 62.8L232.26 64.8L231.2 68.05L227.8 68.05L226.74 64.8Z" fill="#800000"/><text x="240" y="68" font-size="7.2" font-weight="bold" stroke="#000" stroke-width="0.15">A1C1+Nano1</text><text x="310.9" y="68" font-size="7.2" font-weight="bold" stroke="#000" stroke-width="0.15" text-anchor="end">120<tspan font-size="4.2" dy="-3.8">0</tspan><tspan dy="3.8">F</tspan></text><rect x="595.8" y="0.5" width="110.5" height="56.2" fill="#fff" stroke="#444" stroke-width="1"/><path d="M604.5 9.8H621.8" stroke="#444" stroke-width="1.1"/><rect x="611.25" y="7.65" width="4.3" height="4.3" fill="#000000"/><text x="626.4" y="12.5" font-size="7.5" font-weight="bold" stroke="#000" stroke-width="0.15">Bentonite</text><text x="695.3" y="12.5" font-size="7.5" font-weight="bold" stroke="#000" stroke-width="0.15" text-anchor="end">150<tspan font-size="4.2" dy="-3.8">0</tspan><tspan dy="3.8">F</tspan></text><path d="M604.5 20.4H621.8" stroke="#0000ff" stroke-width="1.1"/><path d="M613.4 17.07L616.2 22.07L610.6 22.07Z" fill="#0000ff"/><text x="626.4" y="23.1" font-size="7.5" font-weight="bold" stroke="#000" stroke-width="0.15">C1</text><text x="695.3" y="23.1" font-size="7.5" font-weight="bold" stroke="#000" stroke-width="0.15" text-anchor="end">150<tspan font-size="4.2" dy="-3.8">0</tspan><tspan dy="3.8">F</tspan></text><path d="M604.5 31.5H621.8" stroke="#008000" stroke-width="1.1"/><path d="M613.4 28.3L616.5 31.5L613.4 34.7L610.3 31.5Z" fill="#008000"/><text x="626.4" y="34.2" font-size="7.5" font-weight="bold" stroke="#000" stroke-width="0.15">A1</text><text x="695.3" y="34.2" font-size="7.5" font-weight="bold" stroke="#000" stroke-width="0.15" text-anchor="end">150<tspan font-size="4.2" dy="-3.8">0</tspan><tspan dy="3.8">F</tspan></text><path d="M604.5 42.2H621.8" stroke="#ffa040" stroke-width="1.1"/><path d="M611.53 39.2L617.13 42.2L611.53 45.2Z" fill="#ff8000"/><text x="626.4" y="44.9" font-size="7.5" font-weight="bold" stroke="#000" stroke-width="0.15">A1C1</text><text x="695.3" y="44.9" font-size="7.5" font-weight="bold" stroke="#000" stroke-width="0.15" text-anchor="end">150<tspan font-size="4.2" dy="-3.8">0</tspan><tspan dy="3.8">F</tspan></text><path d="M604.5 52.6H621.8" stroke="#a03030" stroke-width="1.1"/><path d="M613.4 49.9L614.22 51.87L616.35 52.04L614.73 53.43L615.22 55.51L613.4 54.4L611.58 55.51L612.07 53.43L610.45 52.04L612.58 51.87Z" fill="#800000"/><text x="624.3" y="55.3" font-size="7.5" font-weight="bold" stroke="#000" stroke-width="0.15">A1C1+Nano1</text><text x="695.3" y="55.3" font-size="7.5" font-weight="bold" stroke="#000" stroke-width="0.15" text-anchor="end">150<tspan font-size="4.2" dy="-3.8">0</tspan><tspan dy="3.8">F</tspan></text><g fill="#000"><text transform="translate(12.5,16.1) scale(0.85,1)" font-size="16.5" stroke="#1a1a1a" stroke-width="0.35">a</text><text transform="translate(22.4,15.9) scale(0.85,1)" font-size="16.8" stroke="#1a1a1a" stroke-width="0.3">)</text><text transform="translate(364.2,15.7) scale(0.95,1)" font-size="16.5" stroke="#1a1a1a" stroke-width="0.35">b</text><text transform="translate(374,16) scale(0.85,1)" font-size="16.8" stroke="#1a1a1a" stroke-width="0.3">)</text><text transform="translate(31,54.8) scale(1,1.0)" font-size="9.5" text-anchor="end" stroke="#000" stroke-width="0.12">1</text><text transform="translate(30.9,254.2) scale(1,1.05)" font-size="9.5" text-anchor="end" stroke="#000" stroke-width="0.12">0.1</text><text transform="translate(170.7,286) scale(1,1.05)" font-size="9.5" text-anchor="middle" stroke="#000" stroke-width="0.12">200</text><text transform="translate(312,286) scale(1,1.05)" font-size="9.5" text-anchor="middle" stroke="#000" stroke-width="0.12">400</text><text x="176.9" y="300.4" font-size="11.5" text-anchor="middle" font-weight="normal" stroke="#000" stroke-width="0.18">Time</text><text x="176.9" y="314.7" font-size="11.5" text-anchor="middle" font-weight="normal" stroke="#000" stroke-width="0.18">[sec]</text><text transform="translate(377.6,37.4) scale(1,1.0)" font-size="10" text-anchor="end" stroke="#000" stroke-width="0.12">2.5</text><text transform="translate(377.6,85.05) scale(1,1.0)" font-size="10" text-anchor="end" stroke="#000" stroke-width="0.12">2.0</text><text transform="translate(377.6,132.7) scale(1,1.0)" font-size="10" text-anchor="end" stroke="#000" stroke-width="0.12">1.5</text><text transform="translate(377,148.4) scale(1,1.0)" font-size="10" text-anchor="end" stroke="#000" stroke-width="0.12">1</text><text transform="translate(377.4,222.8) scale(1,1.0)" font-size="10" text-anchor="end" stroke="#000" stroke-width="0.12">0.1</text><text transform="translate(537.8,288.6) scale(1,1.05)" font-size="10" text-anchor="middle" stroke="#000" stroke-width="0.12">200</text><text x="545.4" y="303.7" font-size="11.5" text-anchor="middle" font-weight="normal" stroke="#000" stroke-width="0.18">Time</text><text x="545.4" y="318.8" font-size="11.5" text-anchor="middle" font-weight="normal" stroke="#000" stroke-width="0.18">[sec]</text><text transform="translate(7.5,131.2) rotate(-90)" font-size="11.5" text-anchor="middle" stroke="#000" stroke-width="0.18">Viscosity</text><text transform="translate(22.5,130.5) rotate(-90)" font-size="11.5" text-anchor="middle" stroke="#000" stroke-width="0.18">[Pa.s]</text><text transform="translate(354.6,131.7) rotate(-90)" font-size="11.5" text-anchor="middle" stroke="#000" stroke-width="0.18">Viscosity</text><text transform="translate(368.5,132.2) rotate(-90)" font-size="11.5" text-anchor="middle" stroke="#000" stroke-width="0.18">[Pa.s]</text></g></svg></body></html>
